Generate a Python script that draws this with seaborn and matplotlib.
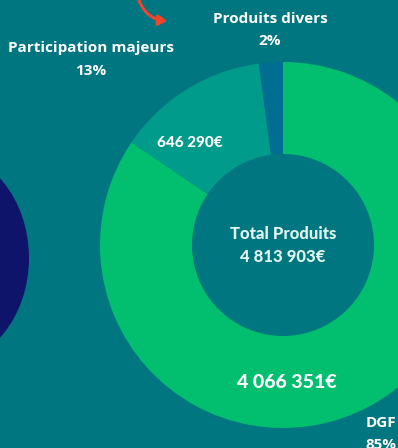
import matplotlib
matplotlib.use("Agg")
import matplotlib.pyplot as plt
from matplotlib.patches import Ellipse, FancyArrowPatch
import seaborn as sns

# Budget data
categories = ["DGF", "Participation majeurs", "Produits divers"]
amounts = [4066351, 646290, 101262]
amount_labels = ["4 066 351€", "646 290€", ""]
percent_labels = ["85%", "13%", "2%"]
total_label = "4 813 903€"

BG = "#007680"
palette = sns.color_palette(["#01BF6F", "#009B8A", "#006D91"])

sns.set_theme(style="white")
plt.rcParams["font.family"] = ["Open Sans", "DejaVu Sans"]

W, H = 398, 448
fig = plt.figure(figsize=(W / 100, H / 100), dpi=100, facecolor=BG)
ax = fig.add_axes([0, 0, 1, 1])
ax.set_facecolor(BG)
ax.set_xlim(0, W)
ax.set_ylim(0, H)
ax.set_aspect("equal")
ax.axis("off")

def py(y):
    return H - y

# decorative shape at the left edge
ax.add_patch(Ellipse((-60, py(258)), 178, 216, color="#0F146B", lw=0))

# curved arrow at the top
ax.add_patch(FancyArrowPatch((138, py(-2)), (170, py(21)),
                             connectionstyle="arc3,rad=0.35",
                             arrowstyle="-|>,head_length=5,head_width=3",
                             color="#F0452B", lw=2.2))

cx, cy, R = 283, py(245), 183
ax.pie(amounts, colors=palette, startangle=90, counterclock=False,
       center=(cx, cy), radius=R, frame=True,
       wedgeprops=dict(width=R - 91, linewidth=0))
ax.set_xlim(0, W)
ax.set_ylim(0, H)
ax.axis("off")

txt = dict(color="white", fontweight="bold", ha="center", va="center")

ax.text(91, py(48), categories[1], fontsize=11, **txt)
ax.text(91, py(71), percent_labels[1], fontsize=11, **txt)
ax.text(270, py(19), categories[2], fontsize=11, **txt)
ax.text(270, py(41), percent_labels[2], fontsize=11, **txt)
ax.text(381, py(423), categories[0], fontsize=11, **txt)
ax.text(381, py(445), percent_labels[0], fontsize=11, **txt)

disp = dict(fontweight="black", ha="center", va="center",
            family=["Lato", "DejaVu Sans"])
ax.text(190, py(143), amount_labels[1], fontsize=11, color="white", **disp)
ax.text(287, py(383), amount_labels[0], fontsize=14, color="white", **disp)
ax.text(283, py(234), "Total Produits", fontsize=12, color="#DFF7EF", **disp)
ax.text(283, py(257), total_label, fontsize=12, color="#DFF7EF", **disp)

fig.savefig("out.png", dpi=100, facecolor=BG)
